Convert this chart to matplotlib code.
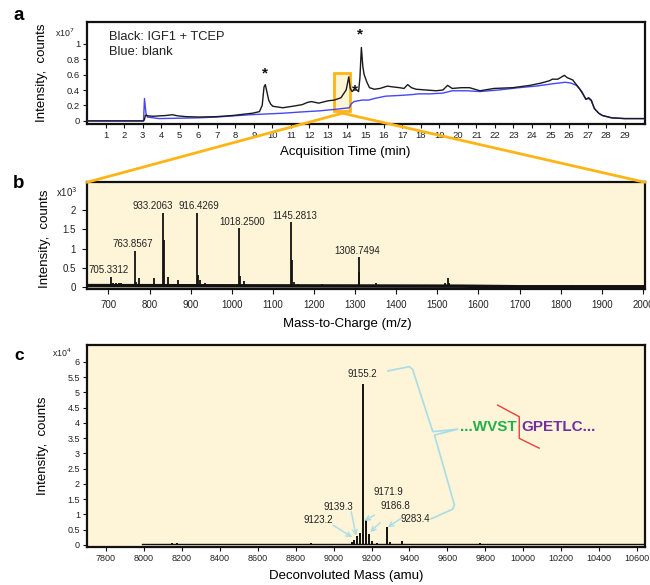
import matplotlib
matplotlib.use('Agg')
import matplotlib.pyplot as plt
from matplotlib.patches import Rectangle, ConnectionPatch
from matplotlib.ticker import FuncFormatter

plt.rcParams['font.family'] = ['Liberation Sans', 'DejaVu Sans']

# ---------------- Panel a: chromatogram (x1e7 counts) ----------------
a_time_black = [0, 3.05, 3.1, 3.15, 3.3, 3.55, 3.9, 4.27, 4.6, 4.9, 5.35, 6.07, 6.97, 7.86, 8.94,
                9.3, 9.45, 9.55, 9.62, 9.7, 9.8, 9.9, 10.02, 10.56, 11.1, 11.6, 11.9, 12.1, 12.5,
                13.0, 13.35, 13.7, 13.98, 14.12, 14.2, 14.3, 14.4, 14.55, 14.65, 14.72, 14.8,
                14.88, 14.95, 15.1, 15.24, 15.5, 15.8, 16.2, 16.5, 16.86, 17.1, 17.3, 17.5, 17.75,
                18.3, 18.83, 19.2, 19.45, 19.7, 20.2, 20.63, 21.2, 21.95, 22.97, 23.9, 24.5,
                24.95, 25.1, 25.4, 25.75, 25.9, 26.2, 26.56, 26.92, 27.06, 27.2, 27.37, 27.6,
                27.8, 28.3, 29.0, 30.1]
a_int_black = [0, 0, 0.02, 0.074, 0.065, 0.06, 0.065, 0.07, 0.08, 0.065, 0.055, 0.05, 0.055, 0.07, 0.1,
               0.12, 0.2, 0.44, 0.47, 0.38, 0.27, 0.22, 0.19, 0.17, 0.19, 0.21, 0.24, 0.25, 0.23,
               0.26, 0.27, 0.3, 0.40, 0.57, 0.42, 0.38, 0.40, 0.40, 0.38, 0.55, 0.95,
               0.70, 0.60, 0.50, 0.43, 0.41, 0.42, 0.45, 0.44, 0.43, 0.42, 0.47, 0.43, 0.41,
               0.40, 0.39, 0.40, 0.46, 0.42, 0.43, 0.43, 0.39, 0.42, 0.43, 0.46, 0.49,
               0.52, 0.54, 0.54, 0.59, 0.56, 0.53, 0.42, 0.28, 0.30, 0.27, 0.16, 0.10,
               0.07, 0.04, 0.03, 0.03]
a_time_blue = [0, 3.05, 3.1, 3.18, 3.25, 3.9, 5.0, 6.0, 7.0, 7.9, 8.8, 9.7, 10.6, 11.5, 12.54,
               13.4, 14.15, 14.25, 14.4, 14.85, 15.2, 15.5, 16.1, 16.9, 17.5, 17.9, 18.5, 19.2,
               19.7, 20.5, 21.2, 22.2, 23.3, 24.2, 25.1, 25.8, 26.1, 26.4, 26.7, 26.9, 27.06,
               27.2, 27.37, 27.6, 27.8, 28.3, 29.0, 30.1]
a_int_blue = [0, 0, 0.29, 0.1, 0.05, 0.03, 0.035, 0.04, 0.05, 0.065, 0.08, 0.09, 0.10, 0.115, 0.13,
              0.15, 0.17, 0.22, 0.25, 0.27, 0.27, 0.29, 0.32, 0.33, 0.34, 0.35, 0.35, 0.36,
              0.39, 0.39, 0.38, 0.40, 0.43, 0.45, 0.48, 0.50, 0.49, 0.46, 0.38, 0.28, 0.29,
              0.26, 0.16, 0.10, 0.07, 0.04, 0.03, 0.03]
a_star_time = [9.6, 14.43, 14.75]
a_star_int = [0.62, 0.39, 1.12]
a_xticks = list(range(1, 30))
a_yticks = [0, 0.2, 0.4, 0.6, 0.8, 1.0]

# ---------------- Panel b: MS spectrum (x1e3 counts) ----------------
b_mz = [680, 705.33, 712, 718, 725, 730, 763.86, 766, 775, 812, 833.21, 834.5, 845, 850, 870,
        916.43, 917.6, 924, 936, 1018.25, 1019.5, 1030, 1040, 1107, 1145.28, 1146.5, 1152,
        1160, 1219, 1308.75, 1310.2, 1330, 1352, 1425, 1519, 1526.5, 1528, 1660, 1827]
b_int = [0.08, 0.26, 0.12, 0.12, 0.1, 0.1, 0.93, 0.15, 0.24, 0.25, 1.92, 1.22, 0.26, 0.08, 0.2,
         1.93, 0.33, 0.2, 0.12, 1.53, 0.30, 0.16, 0.06, 0.07, 1.68, 0.72, 0.14,
         0.08, 0.09, 0.78, 0.40, 0.05, 0.12, 0.03, 0.1, 0.23, 0.12, 0.03, 0.05]
b_base_mz = [650, 1000, 1300, 1560, 1700, 2005]
b_base_int = [0.045, 0.04, 0.035, 0.03, 0.015, 0.015]
b_label_text = ['705.3312', '763.8567', '933.2063', '916.4269', '1018.2500', '1145.2813', '1308.7494']
b_label_mz = [700, 759, 808, 921, 1025, 1153, 1306]
b_label_int = [0.45, 1.12, 2.11, 2.11, 1.68, 1.85, 0.94]
b_xticks = list(range(700, 2001, 100))
b_yticks = [0, 0.5, 1, 1.5, 2]

# ---------------- Panel c: deconvoluted spectrum (x1e4 counts) ----------------
c_mass = [8020, 8150, 8175, 8300, 8880, 9098, 9110, 9123.2, 9139.3, 9155.2, 9171.9, 9186.8,
          9200, 9230, 9283.4, 9300, 9360, 9470, 9560, 9770, 10000, 10300]
c_int = [0.04, 0.07, 0.05, 0.03, 0.05, 0.1, 0.15, 0.3, 0.38, 5.27, 0.82, 0.35,
         0.12, 0.06, 0.58, 0.1, 0.12, 0.04, 0.03, 0.05, 0.02, 0.02]
c_base_mass = [7990, 10640]
c_base_int = [0.015, 0.015]
c_main_label = ('9155.2', 9152, 5.6)
c_ann_text = ['9123.2', '9139.3', '9171.9', '9186.8', '9283.4']
c_ann_text_xy = [(8920, 0.82), (9023, 1.23), (9291, 1.72), (9326, 1.29), (9433, 0.85)]
c_ann_from = [(8996, 0.65), (9093, 1.09), (9216, 0.98), (9246, 0.73), (9356, 0.87)]
c_ann_to = [(9098, 0.25), (9119, 0.30), (9163, 0.79), (9193, 0.42), (9286, 0.58)]
c_brace_mass = [9286, 9400, 9417, 9523, 9654, 9532, 9637, 9628, 9514]
c_brace_int = [5.70, 5.84, 5.75, 3.71, 3.79, 3.60, 1.31, 1.17, 0.85]
c_cut_mass = [9865, 9979, 9979, 10084]
c_cut_int = [4.58, 4.20, 3.49, 3.17]
c_xticks = list(range(7800, 10601, 200))
c_yticks = [i * 0.5 for i in range(13)]

CREAM = '#FEF4D8'
ORANGE = '#FDB515'
LBLUE = '#A8DCE6'
TXT = '#222222'

fig = plt.figure(figsize=(6.5, 5.85), dpi=100)
W, H = 650.0, 585.0
def axrect(l, t, r, b):
    return [l / W, 1 - b / H, (r - l) / W, (b - t) / H]

ax_a = fig.add_axes(axrect(87, 22, 645, 124))
ax_b = fig.add_axes(axrect(87, 182.3, 645, 288.5))
ax_c = fig.add_axes(axrect(87, 345, 645, 546.7))

fmt = FuncFormatter(lambda v, p: f'{v:g}')

def style(ax, fs, length=3, pad=2):
    for s in ax.spines.values():
        s.set_linewidth(1.6)
        s.set_color('#111111')
    ax.tick_params(direction='out', length=length, width=0.8, labelsize=fs, pad=pad,
                   colors='#111111', labelcolor=TXT)
    ax.yaxis.set_major_formatter(fmt)

# ----- panel a -----
style(ax_a, 6.8)
ax_a.plot(a_time_blue, a_int_blue, color='#4646F5', lw=1.0, zorder=3)
ax_a.plot(a_time_black, a_int_black, color='#1a1a1a', lw=1.0, zorder=4)
ax_a.add_patch(Rectangle((13.35, 0.13), 0.85, 0.486, facecolor=CREAM, edgecolor=ORANGE,
                         lw=2, zorder=2))
for t, v in zip(a_star_time, a_star_int):
    ax_a.text(t, v, '*', ha='center', va='center', fontsize=11, fontweight='bold', color='#111111')
ax_a.set_xlim(0, 30.1)
ax_a.set_ylim(-0.04, 1.28)
ax_a.set_xticks(a_xticks)
ax_a.set_yticks(a_yticks)
ax_a.set_xlabel('Acquisition Time (min)', fontsize=9.5)
ax_a.xaxis.set_label_coords(0.463, -0.275)
ax_a.xaxis.label.set_va('center')
ax_a.set_ylabel('Intensity,  counts', fontsize=9.5)
ax_a.yaxis.set_label_coords(-0.08, 0.5)
ax_a.yaxis.label.set_va('center')
ax_a.text(0.04, 0.78, 'Black: IGF1 + TCEP\nBlue: blank', transform=ax_a.transAxes,
          fontsize=9.3, va='center', ha='left', linespacing=1.3, color=TXT)

# ----- panel b -----
style(ax_b, 7.0, length=3.5, pad=4.5)
ax_b.set_facecolor(CREAM)
ax_b.plot(b_base_mz, b_base_int, color='#111111', lw=2.5)
ax_b.vlines(b_mz, 0, b_int, color='#111111', lw=1.3)
for t, x, y in zip(b_label_text, b_label_mz, b_label_int):
    ax_b.text(x, y, t, ha='center', va='center', fontsize=7, color=TXT)
ax_b.set_xlim(648, 2005)
ax_b.set_ylim(-0.03, 2.72)
ax_b.set_xticks(b_xticks)
ax_b.set_yticks(b_yticks)
ax_b.set_xlabel('Mass-to-Charge (m/z)', fontsize=9.5)
ax_b.xaxis.set_label_coords(0.467, -0.335)
ax_b.xaxis.label.set_va('center')
ax_b.set_ylabel('Intensity,  counts', fontsize=9.5)
ax_b.yaxis.set_label_coords(-0.076, 0.47)
ax_b.yaxis.label.set_va('center')

# ----- panel c -----
style(ax_c, 6.5)
ax_c.set_facecolor(CREAM)
ax_c.plot(c_base_mass, c_base_int, color='#111111', lw=1.0)
ax_c.vlines(c_mass, 0, c_int, color='#111111', lw=1.4)
ax_c.text(c_main_label[1], c_main_label[2], c_main_label[0], ha='center', va='center',
          fontsize=7, color=TXT)
for t, (tx, ty), (fx, fy), (px, py) in zip(c_ann_text, c_ann_text_xy, c_ann_from, c_ann_to):
    ax_c.text(tx, ty, t, ha='center', va='center', fontsize=7, color=TXT)
    ax_c.annotate('', xy=(px, py), xytext=(fx, fy),
                  arrowprops=dict(arrowstyle='->', color=LBLUE, lw=1.0, shrinkA=0, shrinkB=0,
                                  mutation_scale=8))
ax_c.plot(c_brace_mass, c_brace_int, color=LBLUE, lw=1.2, solid_joinstyle='round')
ax_c.plot(c_cut_mass, c_cut_int, color='#E8403A', lw=1.0)
ax_c.text(9963, 3.85, '...WVST', ha='right', va='center', fontsize=11, fontweight='bold',
          color='#22B04A')
ax_c.text(9988, 3.85, 'GPETLC...', ha='left', va='center', fontsize=11, fontweight='bold',
          color='#7030A0')
ax_c.set_xlim(7700, 10642)
ax_c.set_ylim(-0.06, 6.55)
ax_c.set_xticks(c_xticks)
ax_c.set_yticks(c_yticks)
ax_c.set_xlabel('Deconvoluted Mass (amu)', fontsize=9.5)
ax_c.xaxis.set_label_coords(0.464, -0.145)
ax_c.xaxis.label.set_va('center')
ax_c.set_ylabel('Intensity,  counts', fontsize=9.5)
ax_c.yaxis.set_label_coords(-0.078, 0.5)
ax_c.yaxis.label.set_va('center')

# exponent labels
fig.text(75 / W, 1 - 33 / H, r'x10$^7$', ha='right', va='center', fontsize=6.3, color=TXT)
fig.text(78 / W, 1 - 192 / H, r'x10$^3$', ha='right', va='center', fontsize=7, color=TXT)
fig.text(72 / W, 1 - 353 / H, r'x10$^4$', ha='right', va='center', fontsize=6.3, color=TXT)

# panel letters
for lab, y, fs in [('a', 16, 13.5), ('b', 184, 13.5), ('c', 356, 12.5)]:
    fig.text(19 / W, 1 - y / H, lab, ha='center', va='center', fontsize=fs, fontweight='bold')

# zoom connection lines
for xb in (0, 1):
    con = ConnectionPatch(xyA=(13.78, 0.10), coordsA=ax_a.transData,
                          xyB=(xb, 1), coordsB=ax_b.transAxes,
                          color=ORANGE, lw=2.0, zorder=10)
    fig.add_artist(con)

fig.savefig('out.png', dpi=100)
